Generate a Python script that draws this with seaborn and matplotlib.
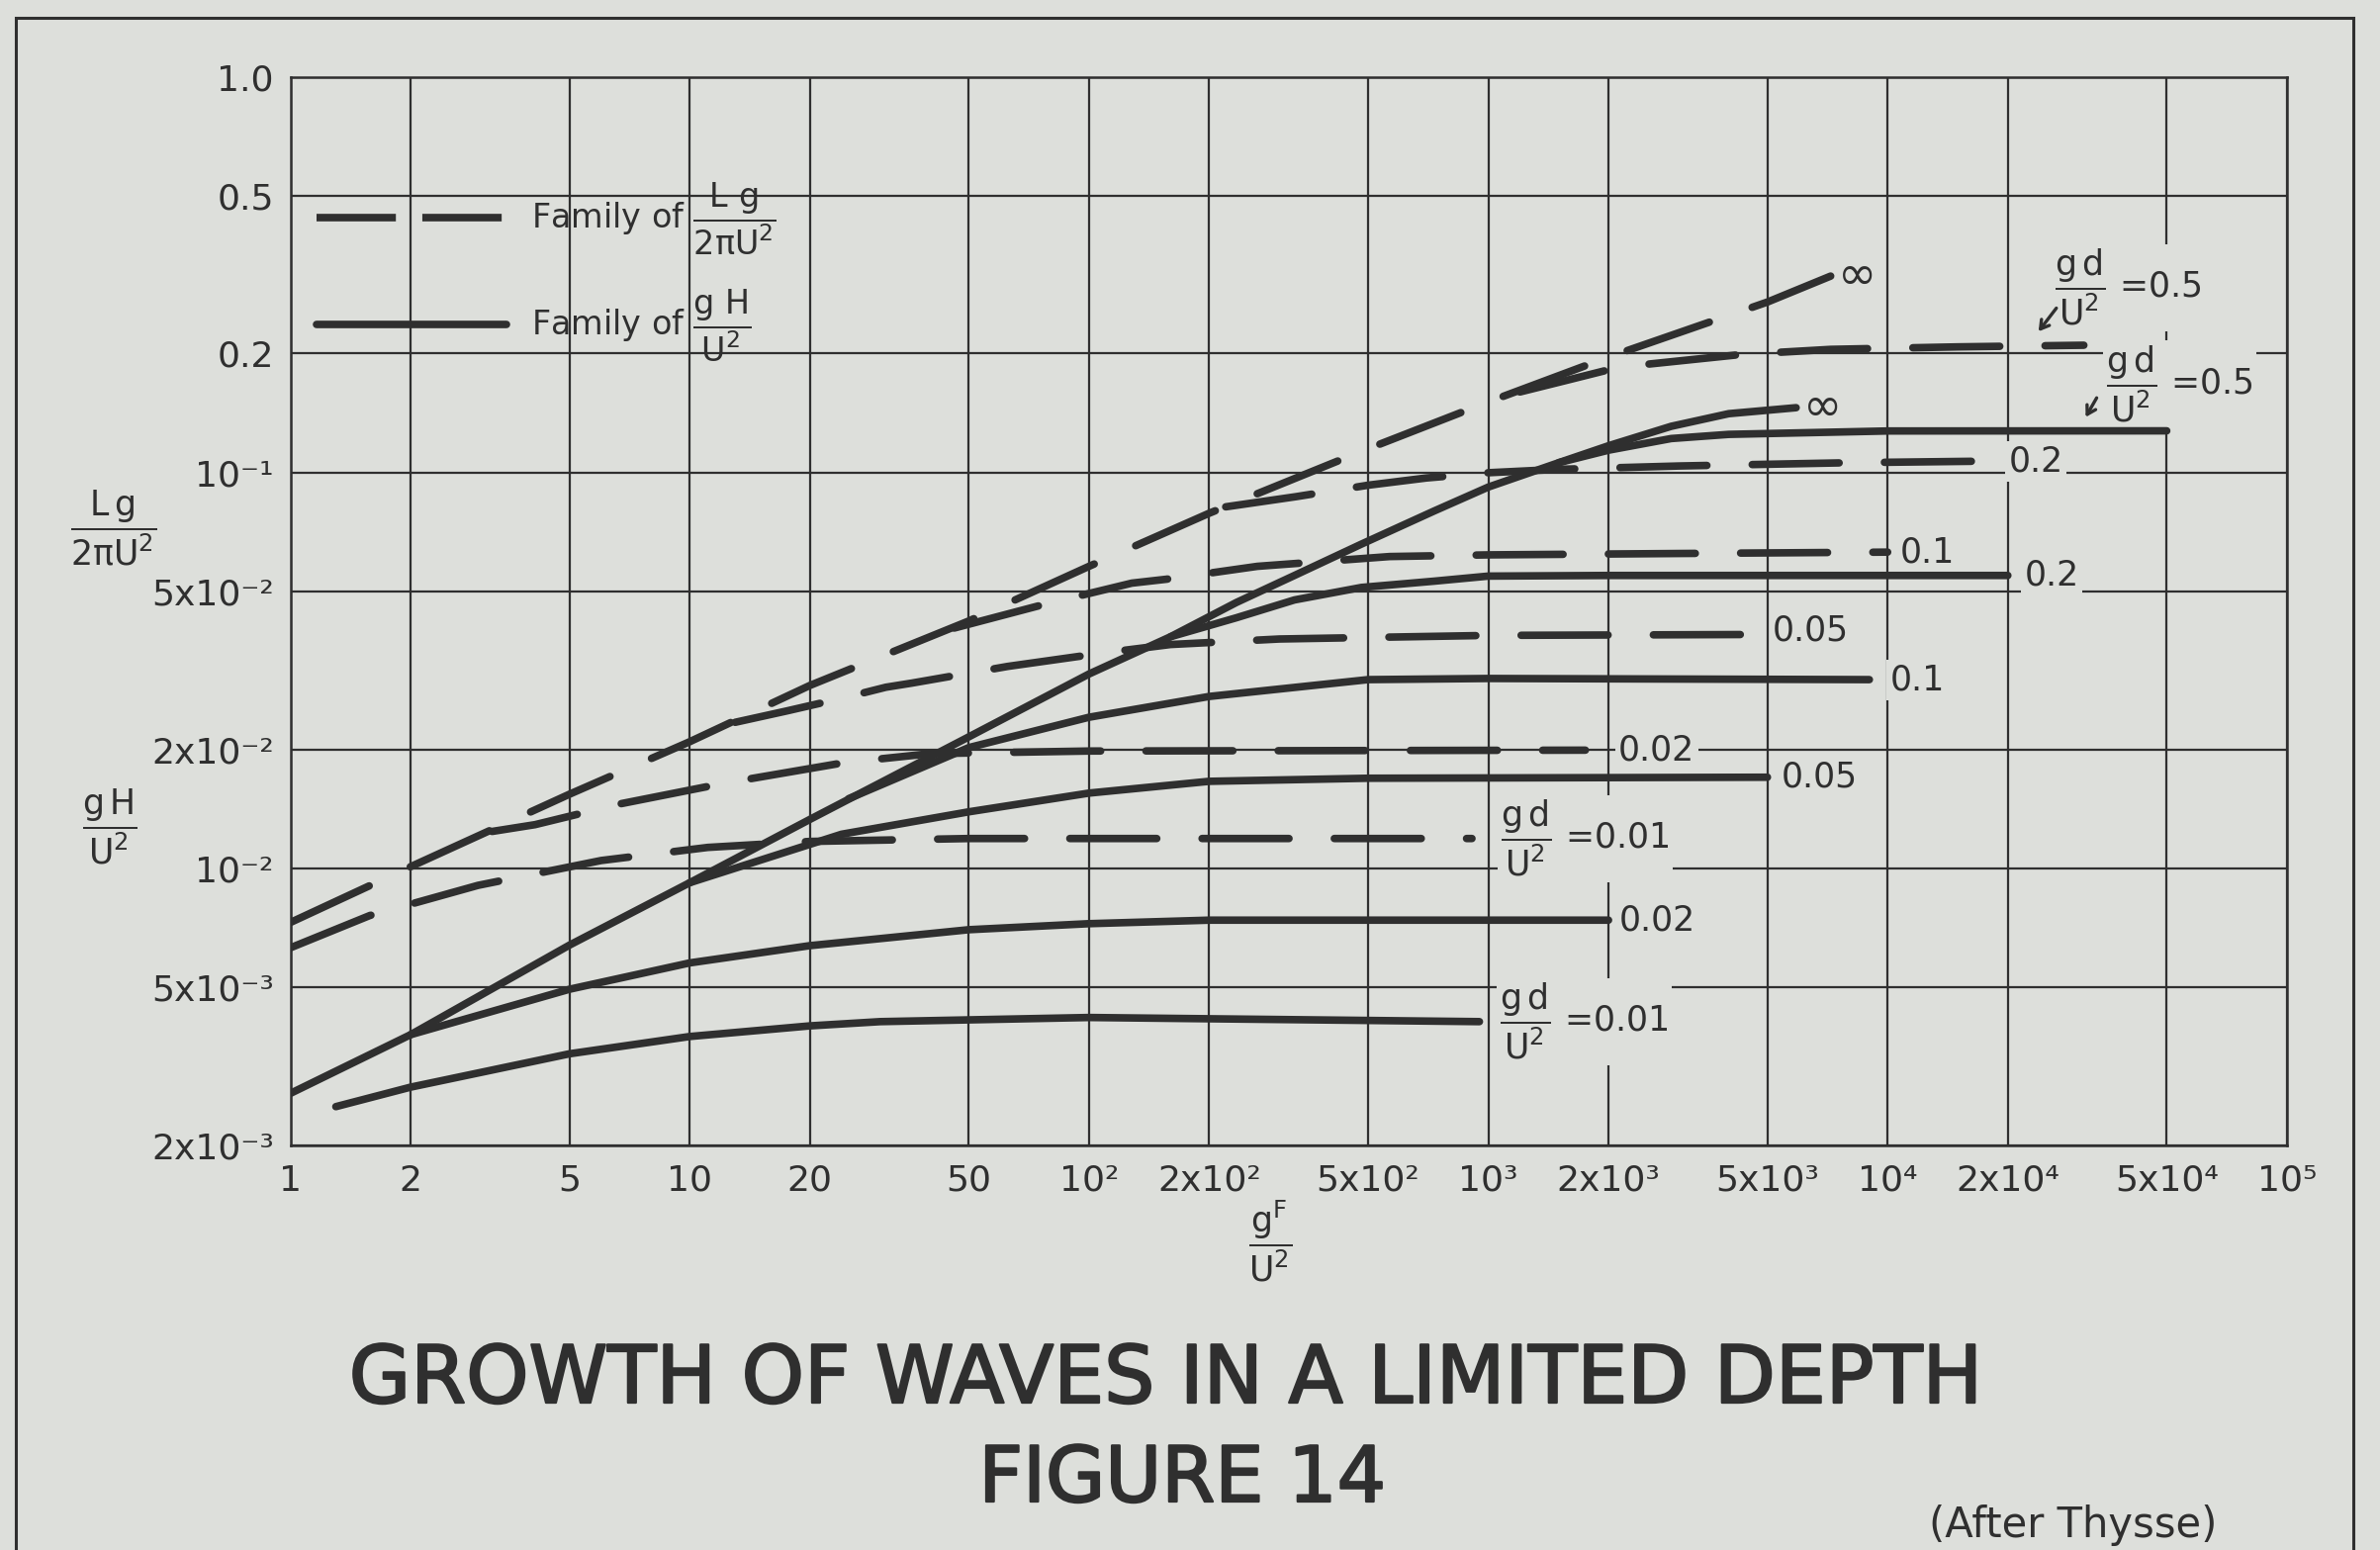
import matplotlib
matplotlib.use("Agg")
import seaborn as sns
from matplotlib import pyplot as plt, patches, transforms, patheffects
from matplotlib.lines import Line2D

# ---- values, x = gF/U^2 ----
# dashed family: L g / 2 pi U^2, one series per gd/U^2
dash_inf_x = [1, 2, 5, 10, 20, 50, 100, 200, 500, 1000, 2000, 5000, 7200]
dash_inf_y = [0.0073, 0.0101, 0.0154, 0.0209, 0.029, 0.0422, 0.058, 0.079, 0.115, 0.151, 0.196, 0.27, 0.314]
dash_05_x = [1200, 1600, 2000, 2500, 4300, 7200, 15000, 31000]
dash_05_y = [0.160, 0.172, 0.182, 0.188, 0.199, 0.205, 0.208, 0.210]
dash_02_x = [220, 330, 500, 700, 1000, 1500, 3000, 8000, 18000]
dash_02_y = [0.082, 0.087, 0.093, 0.097, 0.100, 0.102, 0.104, 0.106, 0.107]
dash_01_x = [46, 78, 128, 156, 264, 566, 1000, 3000, 10000]
dash_01_y = [0.0405, 0.0466, 0.0526, 0.0538, 0.058, 0.0614, 0.062, 0.0625, 0.063]
dash_005_x = [13, 17.5, 24, 31, 36, 62.6, 110, 160, 300, 1000, 4400]
dash_005_y = [0.0234, 0.025, 0.0269, 0.0287, 0.0294, 0.0324, 0.0351, 0.0368, 0.038, 0.0388, 0.039]
dash_002_x = [3.2, 4.1, 6.7, 12.3, 23.3, 28.3, 40, 100, 1750]
dash_002_y = [0.0124, 0.0129, 0.01456, 0.01644, 0.01836, 0.0188, 0.0195, 0.0198, 0.0199]
dash_001_x = [1, 1.58, 2.95, 6.0, 11.1, 20, 50, 910]
dash_001_y = [0.0063, 0.0076, 0.00906, 0.01047, 0.0113, 0.0117, 0.0119, 0.0119]

# solid family: g H / U^2
sol_inf_x = [1, 2, 5, 10, 20, 50, 100, 160, 234, 327, 481, 731, 1000, 1500, 2000, 2870, 4000, 5900]
sol_inf_y = [0.0027, 0.0038, 0.0064, 0.0092, 0.0133, 0.0215, 0.031, 0.0385, 0.047, 0.055, 0.066,
             0.080, 0.092, 0.106, 0.117, 0.131, 0.141, 0.146]
sol_05_x = [1500, 2000, 2870, 4000, 10000, 50000]
sol_05_y = [0.106, 0.114, 0.122, 0.125, 0.1275, 0.1276]
sol_02_x = [160, 234, 327, 481, 731, 1000, 2000, 20000]
sol_02_y = [0.0385, 0.043, 0.0477, 0.0513, 0.0532, 0.0548, 0.055, 0.055]
sol_01_x = [25, 50, 100, 200, 500, 1000, 9000]
sol_01_y = [0.015, 0.0202, 0.0241, 0.0272, 0.030, 0.0302, 0.0300]
sol_005_x = [10, 24, 50, 100, 200, 500, 5000]
sol_005_y = [0.0092, 0.0122, 0.0139, 0.0155, 0.0166, 0.0169, 0.0170]
sol_002_x = [2, 5, 10, 20, 50, 100, 200, 2000]
sol_002_y = [0.0038, 0.00495, 0.00577, 0.00638, 0.0070, 0.00725, 0.0074, 0.0074]
sol_001_x = [1.3, 2, 5, 10, 20, 30, 100, 950]
sol_001_y = [0.0025, 0.0028, 0.0034, 0.00376, 0.0040, 0.0041, 0.0042, 0.0041]

x_ticks = [1, 2, 5, 10, 20, 50, 100, 200, 500, 1000, 2000, 5000, 1e4, 2e4, 5e4, 1e5]
x_labels = ["1", "2", "5", "10", "20", "50", "10²", "2x10²", "5x10²", "10³", "2x10³",
            "5x10³", "10⁴", "2x10⁴", "5x10⁴", "10⁵"]
y_ticks = [0.002, 0.005, 0.01, 0.02, 0.05, 0.1, 0.2, 0.5, 1.0]
y_labels = ["2x10⁻³", "5x10⁻³", "10⁻²", "2x10⁻²", "5x10⁻²", "10⁻¹", "0.2", "0.5", "1.0"]

INK = "#2f2f2f"
PAPER = "#dddfdb"
LW = 5.5
FRAC = r"$\dfrac{\mathrm{g\,d}}{\mathrm{U^2}}$"

sns.set_theme(style="ticks", rc={
    "figure.facecolor": PAPER, "axes.facecolor": PAPER, "savefig.facecolor": PAPER,
    "axes.edgecolor": INK, "axes.linewidth": 1.8,
    "grid.color": INK, "grid.linewidth": 1.6, "grid.alpha": 1.0,
    "text.color": INK, "xtick.color": INK, "ytick.color": INK,
    "axes.labelcolor": INK, "mathtext.fontset": "dejavusans",
})
plt.rcParams["font.family"] = ["DejaVu Sans"]

fig = plt.figure(figsize=(24.06, 15.67), dpi=100)
ax = fig.add_axes([0.1220, 0.2613, 0.8389, 0.6890])
ax.set_xscale("log")
ax.set_yscale("log")

# label text, offset from curve end in points
dashed = [
    (dash_inf_x, dash_inf_y, "∞", 5, 0),
    (dash_05_x, dash_05_y, FRAC + " =0.5", -21, 42),
    (dash_02_x, dash_02_y, "0.2", 14, 0),
    (dash_01_x, dash_01_y, "0.1", 9, 0),
    (dash_005_x, dash_005_y, "0.05", 20, 3),
    (dash_002_x, dash_002_y, "0.02", 24, 0),
    (dash_001_x, dash_001_y, FRAC + " =0.01", 21, 0),
]
solid = [
    (sol_inf_x, sol_inf_y, "∞", 5, 0),
    (sol_05_x, sol_05_y, FRAC + " =0.5", -44, 34),
    (sol_02_x, sol_02_y, "0.2", 12, 0),
    (sol_01_x, sol_01_y, "0.1", 15, 0),
    (sol_005_x, sol_005_y, "0.05", 10, 0),
    (sol_002_x, sol_002_y, "0.02", 8, 0),
    (sol_001_x, sol_001_y, FRAC + " =0.01", 15, 0),
]


def end_label(xs, ys, text, dx, dy):
    size = 34 if text == "∞" else 25
    ax.annotate(text, xy=(xs[-1], ys[-1]), xytext=(dx, dy), textcoords="offset points",
                ha="left", va="center", fontsize=size, zorder=1.5,
                bbox=dict(boxstyle="square,pad=0.1", fc=PAPER, ec="none"))


for xs, ys, text, dx, dy in dashed:
    sns.lineplot(x=xs, y=ys, ax=ax, color=INK, lw=LW, estimator=None, sort=False)
    ln = ax.lines[-1]
    ln.set_dashes((11.5, 6))
    ln.set_dash_capstyle("round")
    end_label(xs, ys, text, dx, dy)

for xs, ys, text, dx, dy in solid:
    sns.lineplot(x=xs, y=ys, ax=ax, color=INK, lw=LW, estimator=None, sort=False,
                 solid_capstyle="round")
    end_label(xs, ys, text, dx, dy)

# little arrows pointing from the 0.5 labels to their curves
for xs, ys, tip, tail in [(dash_05_x, dash_05_y, (-33, 10), (13, 17)),
                          (sol_05_x, sol_05_y, (-59, 10), (8, 14))]:
    tip_tr = transforms.offset_copy(ax.transData, fig=fig, x=tip[0], y=tip[1], units="points")
    ax.annotate("", xy=(xs[-1], ys[-1]), xycoords=tip_tr, xytext=tail,
                textcoords="offset points",
                arrowprops=dict(arrowstyle="->,head_length=0.5,head_width=0.3",
                                color=INK, lw=2.4, shrinkA=0, shrinkB=0))

ax.set_xlim(1, 1e5)
ax.set_ylim(0.002, 1.0)
ax.set_xticks(x_ticks, x_labels)
ax.set_yticks(y_ticks, y_labels)
ax.minorticks_off()
ax.tick_params(length=0, labelsize=26)
ax.tick_params(axis="x", pad=14)
ax.tick_params(axis="y", pad=12)
ax.grid(True, which="major")
for sp in ax.spines.values():
    sp.set_visible(True)
    sp.set_color(INK)
    sp.set_linewidth(1.8)

ax.set_xlabel(r"$\dfrac{\mathrm{g^F}}{\mathrm{U^2}}$", fontsize=25)
ax.xaxis.set_label_coords(0.4907, -0.05)
ax.set_ylabel("")
ax.text(-0.0884, 0.5775, r"$\dfrac{\mathrm{L\,g}}{\mathrm{2πU^2}}$", transform=ax.transAxes,
        ha="center", va="center", fontsize=25)
ax.text(-0.0904, 0.2978, r"$\dfrac{\mathrm{g\,H}}{\mathrm{U^2}}$", transform=ax.transAxes,
        ha="center", va="center", fontsize=25)

handles = [Line2D([], [], color=INK, lw=LW, dashes=(10.5, 3.5)),
           Line2D([], [], color=INK, lw=LW)]
labels = [r"Family of $\dfrac{\mathrm{L\ g}}{\mathrm{2πU^2}}$",
          r"Family of $\dfrac{\mathrm{g\ H}}{\mathrm{U^2}}$"]
ax.legend(handles, labels, loc="center left", bbox_to_anchor=(0.0131, 0.8174),
          frameon=False, fontsize=24, handlelength=5.75, handletextpad=0.75,
          labelspacing=0.92, borderpad=0, borderaxespad=0)

# outer drawing frame
fig.patches.append(patches.Rectangle((0.0067, -0.05), 0.982, 1.0385, transform=fig.transFigure,
                                     fill=False, ec=INK, lw=2.2))

heavy = [patheffects.withStroke(linewidth=1.6, foreground=INK)]
fig.text(0.4896, 0.1091, "GROWTH OF WAVES IN A LIMITED DEPTH", ha="center", va="center",
         fontsize=58, path_effects=heavy)
fig.text(0.4967, 0.0453, "FIGURE 14", ha="center", va="center", fontsize=56,
         path_effects=heavy)
fig.text(0.8711, 0.016, "(After Thysse)", ha="center", va="center", fontsize=30)

fig.savefig("out.png", dpi=100)
